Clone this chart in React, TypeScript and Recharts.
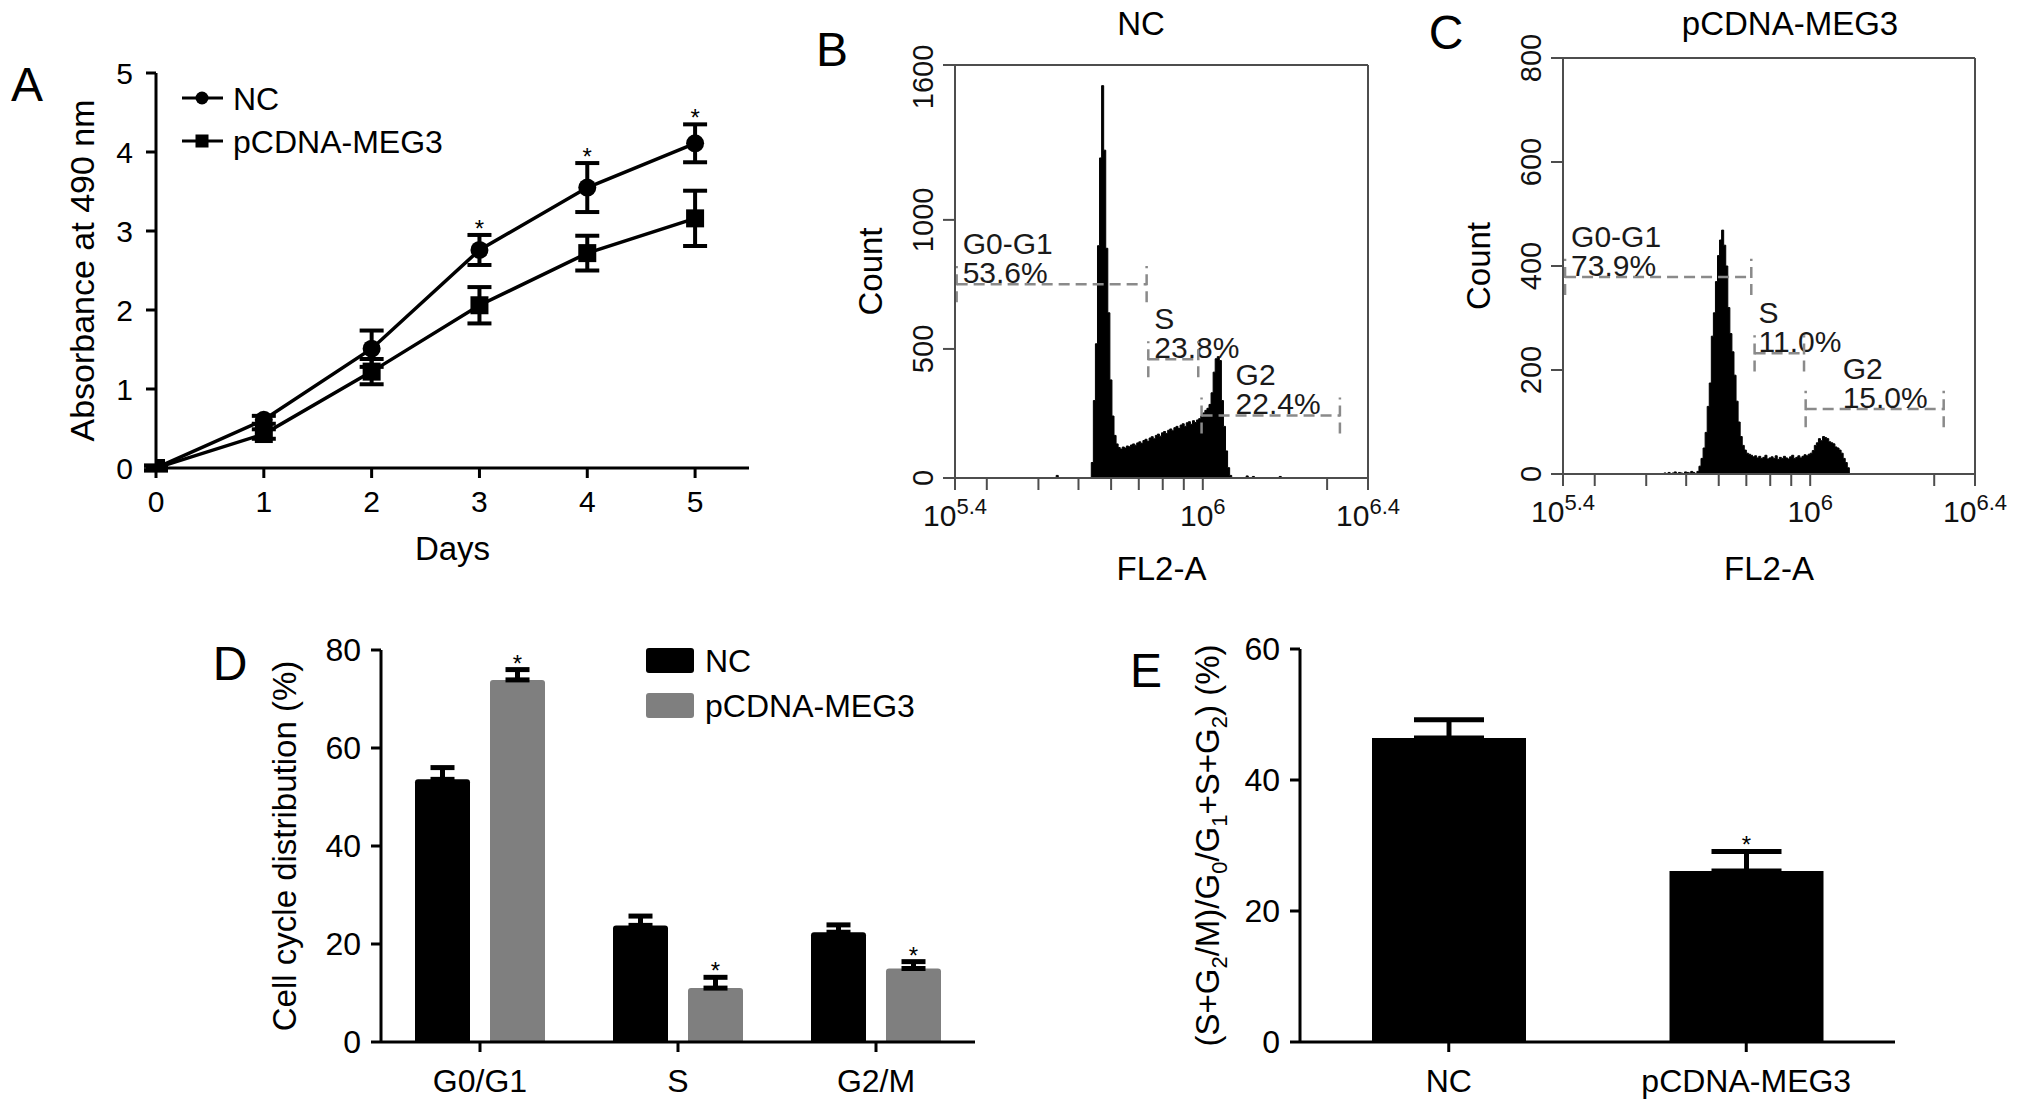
import React from 'react'
import {
  LineChart, Line, BarChart, Bar, AreaChart, Area, XAxis, YAxis,
  ErrorBar, Legend, LabelList, ReferenceLine,
} from 'recharts'

const FONT = "'Liberation Sans', Arial, Helvetica, sans-serif"
const INK = '#000'
const GREY_BAR = '#7f7f7f'
const GATE = '#8a8a8a'
const FRAME = '#4d4d4d'

// A: growth curve, absorbance at 490 nm
const days = [0, 1, 2, 3, 4, 5]
const ncAbs = [0, 0.61, 1.51, 2.76, 3.55, 4.11]
const ncAbsSd = [0.03, 0.05, 0.23, 0.19, 0.31, 0.24]
const megAbs = [0, 0.43, 1.22, 2.06, 2.72, 3.16]
const megAbsSd = [0.03, 0.06, 0.16, 0.23, 0.22, 0.35]
const absSig = [false, false, false, true, true, true]
const absTicks = [0, 1, 2, 3, 4, 5]

// B / C: FL2-A histograms (log10 bins of 0.005 starting at 10^5.64)
const fl2Start = 5.64
const fl2Step = 0.005
const ncCounts = [
  0, 10, 0, 0, 0, 0, 0, 0, 0, 0, 0, 0, 0, 0, 0, 0, 0,
  0, 60, 300, 520, 900, 1240, 1520, 1270, 890, 640, 380, 240, 165, 132, 118, 112,
  120, 116, 124, 121, 128, 132, 127, 136, 140, 134, 145, 150, 142, 155, 160, 152, 165, 170, 162, 175,
  180, 172, 185, 190, 183, 195, 200, 192, 205, 210, 200, 214, 218, 208, 222, 215, 225, 230, 240,
  252, 262, 270, 285, 330, 410, 462, 470, 455, 300, 200, 105, 40, 10, 0,
  0, 0, 0, 0, 0, 0, 8, 0, 0, 6, 0, 0, 0, 0, 0, 0, 0, 0, 0, 0, 0, 0, 6, 0, 0, 0,
]
const megCounts = [
  0, 2, 0, 3, 0, 2, 4, 0, 3, 2, 0, 4, 3, 2, 5, 3, 0,
  5, 15, 30, 50, 80, 130, 175, 265, 310, 370, 420, 450, 469, 440, 400, 320, 270, 235, 190, 140,
  100, 72, 55, 46, 40, 38,
  36, 33, 35, 31, 34, 30, 32, 36, 29, 31, 33, 30, 35, 28, 32, 30, 34, 31, 29, 33, 36, 30, 32, 35,
  31, 34, 37, 35, 38,
  40, 45, 55, 60, 68, 64, 72, 70, 68, 62, 60, 58, 52, 50, 46, 40, 30, 22, 12, 0,
  0, 0, 0, 0, 0, 0, 0, 0, 0, 0, 0, 0, 0, 0, 0, 0, 0, 0, 0, 0, 0,
]
const fl2Ticks = [5.4, 5.477, 5.602, 5.699, 5.778, 5.845, 5.903, 5.954, 6, 6.301, 6.4]
const fl2Major: Record<string, string> = { '5.4': '5.4', '6': '6', '6.4': '6.4' }
const ncCountTicks = [0, 500, 1000, 1600]
const megCountTicks = [0, 200, 400, 600, 800]

const ncGates = [
  { name: 'G0-G1', pct: '53.6%', x1: 5.404, x2: 5.864, y: 751, tick: 70, dx: 6 },
  { name: 'S', pct: '23.8%', x1: 5.868, x2: 5.989, y: 460, tick: 70, dx: 6 },
  { name: 'G2', pct: '22.4%', x1: 5.997, x2: 6.332, y: 242, tick: 70, dx: 34 },
]
const megGates = [
  { name: 'G0-G1', pct: '73.9%', x1: 5.405, x2: 5.857, y: 379, tick: 35, dx: 6 },
  { name: 'S', pct: '11.0%', x1: 5.865, x2: 5.985, y: 232, tick: 35, dx: 4 },
  { name: 'G2', pct: '15.0%', x1: 5.989, x2: 6.324, y: 125, tick: 35, dx: 37 },
]

// D: cell cycle distribution
const phases = ['G0/G1', 'S', 'G2/M']
const ncPhase = [53.6, 23.8, 22.4]
const ncPhaseSd = [2.4, 1.9, 1.5]
const megPhase = [73.9, 11.0, 15.0]
const megPhaseSd = [2.1, 2.2, 1.4]
const megPhaseSig = [true, true, true]
const phaseTicks = [0, 20, 40, 60, 80]

// E: proliferation index
const groups = ['NC', 'pCDNA-MEG3']
const prolif = [46.4, 26.1]
const prolifSd = [2.8, 3.0]
const prolifSig = [false, true]
const prolifTicks = [0, 20, 40, 60]

const growthData = days.map((d, i) => ({
  day: d,
  nc: ncAbs[i],
  ncSd: ncAbsSd[i],
  meg: megAbs[i],
  megSd: megAbsSd[i],
  star: absSig[i] ? ncAbs[i] + ncAbsSd[i] : null,
}))

const toHist = (counts: number[]) =>
  counts.map((c, i) => ({ fl2: +(fl2Start + i * fl2Step).toFixed(3), count: c }))
const ncHist = toHist(ncCounts)
const megHist = toHist(megCounts)

const phaseData = phases.map((p, i) => ({
  phase: p,
  nc: ncPhase[i],
  ncErr: [0, ncPhaseSd[i]],
  meg: megPhase[i],
  megErr: [0, megPhaseSd[i]],
  megStar: megPhaseSig[i] ? [megPhase[i], megPhaseSd[i]] : null,
}))

const prolifData = groups.map((g, i) => ({
  group: g,
  value: prolif[i],
  err: [0, prolifSd[i]],
  star: prolifSig[i] ? [prolif[i], prolifSd[i]] : null,
}))

// ---------- helpers
const yTitle = (text: React.ReactNode, dx: number, size = 33) => (props: any) => {
  const vb = props.viewBox || {}
  const cx = vb.x + vb.width + dx
  const cy = vb.y + vb.height / 2
  return (
    <text transform={`translate(${cx},${cy}) rotate(-90)`} textAnchor="middle" dy="0.36em"
      fontSize={size} fill={INK} fontFamily={FONT}>
      {text}
    </text>
  )
}

const xTitle = (text: string, dy: number, size = 33) => (props: any) => {
  const vb = props.viewBox || {}
  return (
    <text x={vb.x + vb.width / 2} y={vb.y + dy} textAnchor="middle" dy="0.36em"
      fontSize={size} fill={INK} fontFamily={FONT}>
      {text}
    </text>
  )
}

const barStar = (props: any) => {
  const v = props.value
  if (!Array.isArray(v)) return null
  const vb = props.viewBox && props.viewBox.width != null ? props.viewBox : props
  const pxPerUnit = vb.height / v[0]
  const top = vb.y - v[1] * pxPerUnit
  return (
    <text x={vb.x + vb.width / 2} y={top + 2} textAnchor="middle" fontSize={24} fill={INK} fontFamily={FONT}>
      *
    </text>
  )
}

// rotated count labels; the top one sits a little inside the frame as in the scan
const RotTick = (props: any) => {
  const { x, y, payload, topValue } = props
  const shift = payload.value === topValue ? 12 : 0
  return (
    <text transform={`translate(${x},${y + shift}) rotate(-90)`} textAnchor="middle" dy="0.36em"
      fontSize={29} fill="#111" fontFamily={FONT}>
      {payload.value}
    </text>
  )
}

const Fl2Tick = (props: any) => {
  const { x, y, payload } = props
  const sup = fl2Major[String(payload.value)]
  if (!sup) return <g />
  return (
    <text x={x} y={y} dy={34} textAnchor="middle" fontSize={30} fill="#111" fontFamily={FONT}>
      <tspan>10</tspan>
      <tspan fontSize={22} dy={-12}>{sup}</tspan>
    </text>
  )
}

const gateLabel = (g: any) => (props: any) => {
  const vb = props.viewBox || {}
  return (
    <g fontFamily={FONT} fontSize={30} fill="#1a1a1a">
      <text x={vb.x + g.dx} y={vb.y - 41} dy="0.36em">{g.name}</text>
      <text x={vb.x + g.dx} y={vb.y - 12} dy="0.36em">{g.pct}</text>
    </g>
  )
}

const renderGates = (gates: any[]) =>
  gates.flatMap((g, i) => [
    <ReferenceLine key={`h${i}`} segment={[{ x: g.x1, y: g.y }, { x: g.x2, y: g.y }]}
      stroke={GATE} strokeWidth={2.5} strokeDasharray="11 6" ifOverflow="visible" label={gateLabel(g)} />,
    <ReferenceLine key={`l${i}`} segment={[{ x: g.x1, y: g.y - g.tick }, { x: g.x1, y: g.y + g.tick }]}
      stroke={GATE} strokeWidth={2.5} strokeDasharray="11 6" ifOverflow="visible" />,
    <ReferenceLine key={`r${i}`} segment={[{ x: g.x2, y: g.y - g.tick }, { x: g.x2, y: g.y + g.tick }]}
      stroke={GATE} strokeWidth={2.5} strokeDasharray="11 6" ifOverflow="visible" />,
  ])

const axisBlack = { stroke: INK, strokeWidth: 3 }
const axisFrame = { stroke: FRAME, strokeWidth: 2 }

const legendA = () => (
  <svg width={320} height={96} style={{ overflow: 'visible', display: 'block' }}>
    <line x1={4} x2={45} y1={23} y2={23} stroke={INK} strokeWidth={3} />
    <circle cx={24} cy={23} r={6.5} fill={INK} />
    <text x={55} y={23} dy="0.36em" fontSize={32} fontFamily={FONT} fill={INK}>NC</text>
    <line x1={4} x2={45} y1={66} y2={66} stroke={INK} strokeWidth={3} />
    <rect x={17.5} y={59.5} width={13} height={13} fill={INK} />
    <text x={55} y={66} dy="0.36em" fontSize={32} fontFamily={FONT} fill={INK}>pCDNA-MEG3</text>
  </svg>
)

const legendD = () => (
  <svg width={300} height={80} style={{ overflow: 'visible', display: 'block' }}>
    <rect x={0} y={0} width={48} height={25} rx={3} fill={INK} />
    <text x={59} y={12.5} dy="0.36em" fontSize={32} fontFamily={FONT} fill={INK}>NC</text>
    <rect x={0} y={45} width={48} height={25} rx={3} fill={GREY_BAR} />
    <text x={59} y={57.5} dy="0.36em" fontSize={32} fontFamily={FONT} fill={INK}>pCDNA-MEG3</text>
  </svg>
)

function Histogram({ data, gates, yMax, yTicks, width, margin, bottomTitleDy, topShift }: any) {
  return (
    <AreaChart width={width} height={600} data={data} margin={margin}>
      <XAxis dataKey="fl2" type="number" domain={[5.4, 6.4]} ticks={fl2Ticks} interval={0}
        allowDataOverflow tick={<Fl2Tick />} tickSize={12} tickLine={axisFrame} axisLine={axisFrame}
        height={90} label={xTitle('FL2-A', bottomTitleDy)} />
      <YAxis type="number" domain={[0, yMax]} ticks={yTicks} interval={0} allowDataOverflow
        tick={<RotTick topValue={topShift ? yMax : null} />} tickSize={12} tickMargin={20}
        tickLine={axisFrame} axisLine={axisFrame}
        width={70} label={yTitle('Count', -85)} />
      <Area type="stepAfter" dataKey="count" stroke={INK} strokeWidth={1} fill={INK} fillOpacity={1}
        dot={false} activeDot={false} isAnimationActive={false} />
      <ReferenceLine y={yMax} stroke={FRAME} strokeWidth={2} ifOverflow="visible" />
      <ReferenceLine x={6.4} stroke={FRAME} strokeWidth={2} ifOverflow="visible" />
      {renderGates(gates)}
    </AreaChart>
  )
}

const prolifTitle = (
  <>
    <tspan>(S+G</tspan>
    <tspan dy={8} fontSize={22}>2</tspan>
    <tspan dy={-8}>/M)/G</tspan>
    <tspan dy={8} fontSize={22}>0</tspan>
    <tspan dy={-8}>/G</tspan>
    <tspan dy={8} fontSize={22}>1</tspan>
    <tspan dy={-8}>+S+G</tspan>
    <tspan dy={8} fontSize={22}>2</tspan>
    <tspan dy={-8}>) (%)</tspan>
  </>
)

export default function App() {
  return (
    <div style={{ position: 'absolute', left: 0, top: 0, width: 2032, height: 1113, background: '#fff', overflow: 'hidden', fontFamily: FONT }}>
      {/* A */}
      <div style={{ position: 'absolute', left: 0, top: 0 }}>
        <LineChart width={780} height={600} data={growthData} margin={{ top: 73, right: 31, left: 76, bottom: 32 }}>
          <XAxis dataKey="day" type="number" domain={[0, 5.5]} ticks={absTicks} interval={0} allowDataOverflow
            tickSize={10} tickMargin={13} tick={{ fontSize: 30, fill: INK }} tickLine={axisBlack} axisLine={axisBlack}
            height={100} label={xTitle('Days', 80)} />
          <YAxis type="number" domain={[0, 5]} ticks={absTicks} interval={0} allowDataOverflow
            tickSize={10} tickMargin={13} tick={{ fontSize: 30, fill: INK }} tickLine={axisBlack} axisLine={axisBlack}
            width={80} label={yTitle('Absorbance at 490 nm', -74, 34)} />
          <Legend layout="vertical" align="center" verticalAlign="middle" content={legendA}
            wrapperStyle={{ left: 178, top: 75, width: 320, height: 96 }} />
          <Line dataKey="meg" stroke={INK} strokeWidth={3.5} isAnimationActive={false} legendType="none"
            dot={(p: any) => <rect key={`m${p.index}`} x={p.cx - 9} y={p.cy - 9} width={18} height={18} fill={INK} />}
            activeDot={false}>
            <ErrorBar dataKey="megSd" direction="y" width={12} strokeWidth={4} stroke={INK} />
          </Line>
          <Line dataKey="nc" stroke={INK} strokeWidth={3.5} isAnimationActive={false} legendType="none"
            dot={(p: any) => <circle key={`n${p.index}`} cx={p.cx} cy={p.cy} r={9} fill={INK} />}
            activeDot={false}>
            <ErrorBar dataKey="ncSd" direction="y" width={12} strokeWidth={4} stroke={INK} />
          </Line>
          <Line dataKey="star" stroke="none" isAnimationActive={false} legendType="none" activeDot={false}
            dot={(p: any) =>
              p.cy == null || p.value == null ? <g key={`s${p.index}`} /> : (
                <text key={`s${p.index}`} x={p.cx} y={p.cy + 2} textAnchor="middle" fontSize={24} fill={INK} fontFamily={FONT}>*</text>
              )} />
        </LineChart>
      </div>

      {/* B */}
      <div style={{ position: 'absolute', left: 800, top: 0 }}>
        <Histogram data={ncHist} gates={ncGates} yMax={1600} yTicks={ncCountTicks} width={600} topShift
          margin={{ top: 65, right: 32, left: 85, bottom: 32 }} bottomTitleDy={90} />
      </div>

      {/* C */}
      <div style={{ position: 'absolute', left: 1400, top: 0 }}>
        <Histogram data={megHist} gates={megGates} yMax={800} yTicks={megCountTicks} width={632}
          margin={{ top: 58, right: 57, left: 93, bottom: 36 }} bottomTitleDy={94} />
      </div>

      {/* D */}
      <div style={{ position: 'absolute', left: 200, top: 600 }}>
        <BarChart width={800} height={513} data={phaseData} margin={{ top: 50, right: 25, left: 101, bottom: 1 }}
          barCategoryGap={34} barGap={20}>
          <XAxis dataKey="phase" tickSize={10} tickMargin={17} tick={{ fontSize: 32, fill: INK }}
            tickLine={axisBlack} axisLine={axisBlack} height={70} interval={0} />
          <YAxis type="number" domain={[0, 80]} ticks={phaseTicks} interval={0} tickSize={10} tickMargin={10}
            tick={{ fontSize: 32, fill: INK }} tickLine={axisBlack} axisLine={axisBlack} width={80}
            label={yTitle('Cell cycle distribution (%)', -97)} />
          <Legend layout="vertical" align="center" verticalAlign="middle" content={legendD}
            wrapperStyle={{ left: 446, top: 48, width: 300, height: 80 }} />
          <Bar dataKey="nc" fill={INK} radius={[3, 3, 0, 0]} isAnimationActive={false}>
            <ErrorBar dataKey="ncErr" direction="y" width={12} strokeWidth={5} stroke={INK} />
          </Bar>
          <Bar dataKey="meg" fill={GREY_BAR} radius={[3, 3, 0, 0]} isAnimationActive={false}>
            <ErrorBar dataKey="megErr" direction="y" width={12} strokeWidth={5} stroke={INK} />
            <LabelList dataKey="megStar" content={barStar} />
          </Bar>
        </BarChart>
      </div>

      {/* E */}
      <div style={{ position: 'absolute', left: 1100, top: 600 }}>
        <BarChart width={932} height={513} data={prolifData} margin={{ top: 49, right: 137, left: 120, bottom: 1 }}
          barCategoryGap={72}>
          <XAxis dataKey="group" tickSize={10} tickMargin={17} tick={{ fontSize: 32, fill: INK }}
            tickLine={axisBlack} axisLine={axisBlack} height={70} interval={0} />
          <YAxis type="number" domain={[0, 60]} ticks={prolifTicks} interval={0} tickSize={10} tickMargin={10}
            tick={{ fontSize: 32, fill: INK }} tickLine={axisBlack} axisLine={axisBlack} width={80}
            label={yTitle(prolifTitle, -93)} />
          <Bar dataKey="value" fill={INK} isAnimationActive={false}>
            <ErrorBar dataKey="err" direction="y" width={35} strokeWidth={5} stroke={INK} />
            <LabelList dataKey="star" content={barStar} />
          </Bar>
        </BarChart>
      </div>

      {/* panel letters and histogram titles */}
      <svg width={2032} height={1113} style={{ position: 'absolute', left: 0, top: 0, pointerEvents: 'none' }}
        fontFamily={FONT}>
        <g fontSize={48} fill={INK}>
          <text x={27} y={84} textAnchor="middle" dy="0.36em">A</text>
          <text x={832} y={49} textAnchor="middle" dy="0.36em">B</text>
          <text x={1446} y={32} textAnchor="middle" dy="0.36em">C</text>
          <text x={230} y={663} textAnchor="middle" dy="0.36em">D</text>
          <text x={1146} y={670} textAnchor="middle" dy="0.36em">E</text>
        </g>
        <g fontSize={33} fill={INK}>
          <text x={1141} y={23} textAnchor="middle" dy="0.36em">NC</text>
          <text x={1790} y={23} textAnchor="middle" dy="0.36em">pCDNA-MEG3</text>
        </g>
      </svg>
    </div>
  )
}
